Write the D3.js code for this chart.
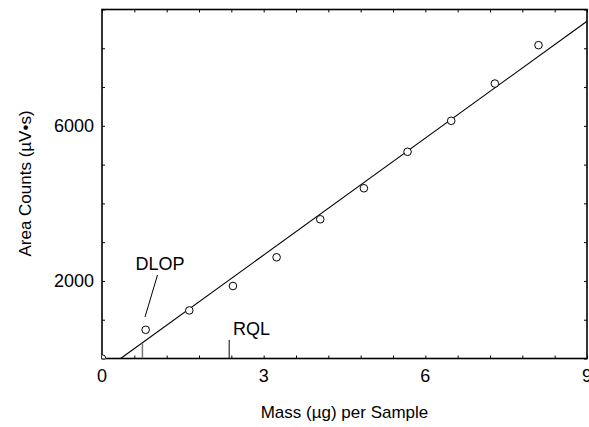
<!DOCTYPE html>
<html><head><meta charset="utf-8">
<script src="https://cdn.jsdelivr.net/npm/d3@7"></script>
<style>
body{margin:0;background:#fff;}
svg{display:block;}
text{font-family:"Liberation Sans",Arial,sans-serif;fill:#000;}
</style></head>
<body>
<svg id="chart" width="589" height="427"></svg>
<script>
// Data
const mass = [0, 0.81, 1.62, 2.43, 3.24, 4.05, 4.86, 5.67, 6.48, 7.29, 8.10];
const area = [0, 740, 1240, 1870, 2610, 3590, 4390, 5330, 6130, 7090, 8080];
const fitSlope = 1005;
const fitIntercept = -347;
const xTickLabels = [0, 3, 6, 9];
const yTickLabels = [2000, 6000];
const xMinorTicks = d3.range(0, 9.001, 0.6);
const yMinorTicks = d3.range(0, 9001, 1000);
const markers = [
  {name: "DLOP", x: 0.75, h: 400},
  {name: "RQL", x: 2.36, h: 480}
];

(function () {
const svg = d3.select("#chart");
const L = 102, R = 587, T = 9.5, B = 358.5;
const x = d3.scaleLinear().domain([0, 9]).range([L, R]);
const y = d3.scaleLinear().domain([0, 9000]).range([B, T]);

svg.append("defs").append("clipPath").attr("id", "clip")
  .append("rect").attr("x", L).attr("y", T).attr("width", R - L).attr("height", B - T);

const tl = 3;
// Axes with inward ticks
const gB = svg.append("g").attr("transform", `translate(0,${B})`)
  .call(d3.axisBottom(x).tickValues(xMinorTicks).tickSize(-tl).tickFormat(""));
const gT = svg.append("g").attr("transform", `translate(0,${T})`)
  .call(d3.axisTop(x).tickValues(xMinorTicks).tickSize(-tl).tickFormat(""));
const gL = svg.append("g").attr("transform", `translate(${L},0)`)
  .call(d3.axisLeft(y).tickValues(yMinorTicks).tickSize(-tl).tickFormat(""));
const gR = svg.append("g").attr("transform", `translate(${R},0)`)
  .call(d3.axisRight(y).tickValues(yMinorTicks).tickSize(-tl).tickFormat(""));
[gB, gT, gL, gR].forEach(g => {
  g.select(".domain").remove();
  g.selectAll(".tick line").attr("stroke", "#000").attr("stroke-width", 1);
});

// Frame
svg.append("rect").attr("x", L).attr("y", T).attr("width", R - L).attr("height", B - T)
  .attr("fill", "none").attr("stroke", "#000").attr("stroke-width", 1.6);

// Tick labels
svg.append("g").selectAll("text").data(xTickLabels).join("text")
  .attr("x", d => x(d)).attr("y", B + 23).attr("text-anchor", "middle")
  .attr("font-size", 18).text(d => d);
svg.append("g").selectAll("text").data(yTickLabels).join("text")
  .attr("x", L - 8).attr("y", d => y(d)).attr("dy", "0.36em").attr("text-anchor", "end")
  .attr("font-size", 18).text(d => d);

// Axis titles
svg.append("text").attr("x", (L + R) / 2).attr("y", 418).attr("text-anchor", "middle")
  .attr("font-size", 17).text("Mass (\u00b5g) per Sample");
svg.append("text").attr("transform", `translate(31,${183.5}) rotate(-90)`)
  .attr("text-anchor", "middle").attr("font-size", 17).text("Area Counts (\u00b5V\u2022s)");

const plot = svg.append("g").attr("clip-path", "url(#clip)");

// Fit line
const x0 = -fitIntercept / fitSlope;
plot.append("line")
  .attr("x1", x(x0)).attr("y1", y(0))
  .attr("x2", x(9)).attr("y2", y(fitSlope * 9 + fitIntercept))
  .attr("stroke", "#000").attr("stroke-width", 1.1);

// Markers
plot.selectAll("line.mk").data(markers).join("line").attr("class", "mk")
  .attr("x1", d => x(d.x)).attr("x2", d => x(d.x))
  .attr("y1", y(0)).attr("y2", d => y(d.h))
  .attr("stroke", (d, i) => i === 0 ? "#777" : "#000")
  .attr("stroke-width", (d, i) => i === 0 ? 1.5 : 1);

// Points
plot.selectAll("circle").data(mass.map((m, i) => [m, area[i]])).join("circle")
  .attr("cx", d => x(d[0])).attr("cy", d => y(d[1])).attr("r", 3.8)
  .attr("fill", "#fff").attr("stroke", "#000").attr("stroke-width", 1);

// Annotations
svg.append("text").attr("x", 160).attr("y", 270).attr("text-anchor", "middle")
  .attr("font-size", 18).text("DLOP");
svg.append("line").attr("x1", 157.5).attr("y1", 275).attr("x2", 145).attr("y2", 317)
  .attr("stroke", "#000").attr("stroke-width", 1);
svg.append("text").attr("x", 233).attr("y", 335).attr("font-size", 18).text("RQL");
})();
</script>
</body></html>
